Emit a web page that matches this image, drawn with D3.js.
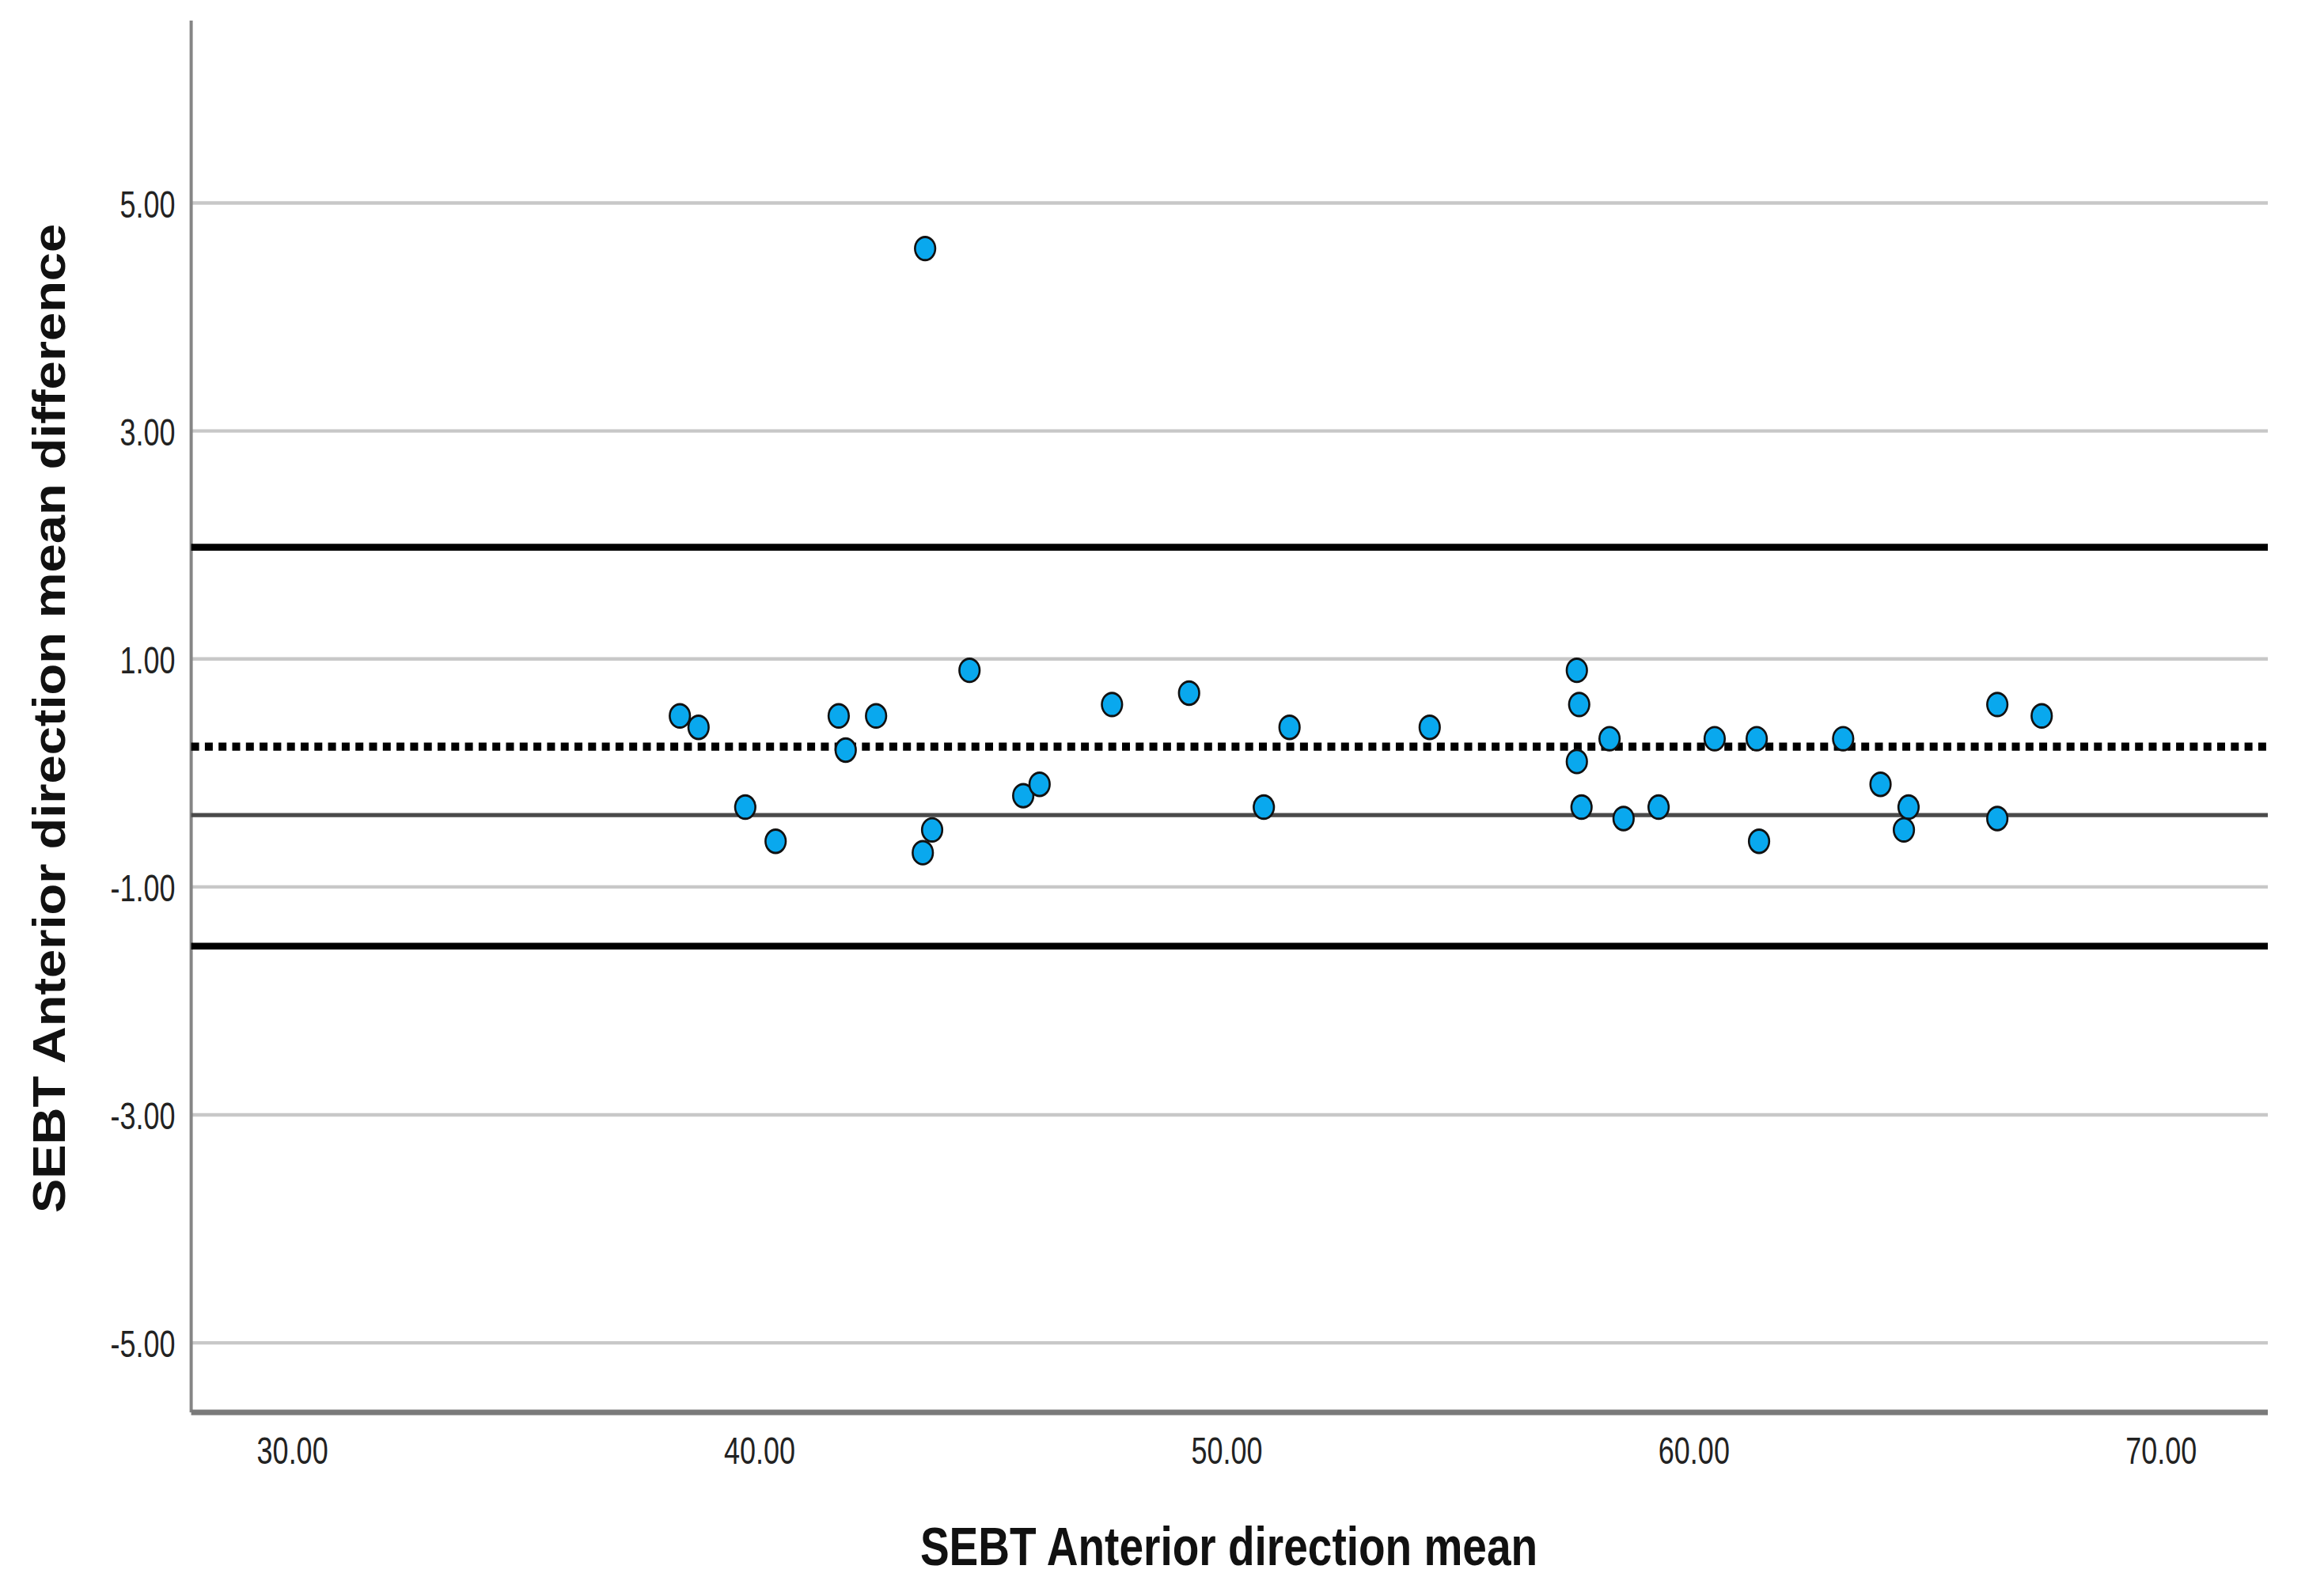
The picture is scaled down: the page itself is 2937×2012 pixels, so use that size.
<!DOCTYPE html>
<html><head><meta charset="utf-8">
<script src="https://cdn.jsdelivr.net/npm/d3@7"></script>
<style>html,body{margin:0;padding:0;background:#fff;overflow:hidden;}</style>
</head><body><div id="chart"></div>
<script>
// ---- data ----
const xTicks = [30, 40, 50, 60, 70];
const yTicks = [-5, -3, -1, 1, 3, 5];
const meanValues = [38.3, 38.7, 39.7, 40.35, 41.7, 41.85, 42.5, 43.55, 43.5, 43.7, 44.5, 45.65, 46.0, 47.55, 49.2, 50.8, 51.35, 54.35, 57.5, 57.55, 57.5, 57.6, 58.2, 58.5, 59.25, 60.45, 61.35, 61.4, 63.2, 64.0, 64.6, 64.5, 66.5, 66.5, 67.45];
const diffValues = [0.5, 0.4, -0.3, -0.6, 0.5, 0.2, 0.5, 4.6, -0.7, -0.5, 0.9, -0.2, -0.1, 0.6, 0.7, -0.3, 0.4, 0.4, 0.9, 0.6, 0.1, -0.3, 0.3, -0.4, -0.3, 0.3, 0.3, -0.6, 0.3, -0.1, -0.3, -0.5, 0.6, -0.4, 0.5];
const meanDiff = 0.23;
const upperLoA = 1.98;
const lowerLoA = -1.52;
const refLine = -0.37;
const xDomain = [27.84, 72.29];
const yDomain = [-5.61, 6.6];
const xTitle = "SEBT Anterior direction mean";
const yTitle = "SEBT Anterior direction mean difference";

// ---- layout (stretched vertically like the source picture) ----
const W = 2937, H = 2012, S = 1.15;
const HI = H / S;
const mLeft = 241.6, mRight = 2866, mTop = 26 / S, mBottom = 1785 / S;

const svg = d3.select("#chart").append("svg")
  .attr("width", W).attr("height", H)
  .attr("viewBox", `0 0 ${W} ${HI}`)
  .attr("preserveAspectRatio", "none")
  .style("display", "block");

svg.append("rect").attr("width", W).attr("height", HI).attr("fill", "#fff");

const x = d3.scaleLinear().domain(xDomain).range([mLeft, mRight]);
const y = d3.scaleLinear().domain(yDomain).range([mBottom, mTop]);
const fmt = d3.formatLocale({decimal: ".", thousands: ",", grouping: [3], currency: ["", ""], minus: "-"}).format(".2f");
const font = "'Liberation Sans', Arial, sans-serif";
const tickK = 1.18;   // extra vertical stretch of tick labels
const tickSize = 36;

// gridlines
svg.append("g").selectAll("line").data(yTicks).join("line")
  .attr("x1", mLeft).attr("x2", mRight)
  .attr("y1", d => y(d)).attr("y2", d => y(d))
  .attr("stroke", "#c8c8c8").attr("stroke-width", 3.9);

// y axis (line + labels)
const yAxis = d3.axisLeft(y).tickValues(yTicks).tickFormat(fmt).tickSize(0);
const gy = svg.append("g").attr("transform", `translate(${mLeft},0)`).call(yAxis);
gy.select(".domain").remove();
gy.selectAll(".tick text")
  .attr("x", 0).attr("y", 0).attr("dy", "0.36em")
  .attr("transform", `translate(-20,0) scale(1,${tickK})`)
  .attr("font-family", font).attr("font-size", tickSize).attr("fill", "#222")
  .attr("text-anchor", "end");
svg.append("line").attr("x1", mLeft).attr("x2", mLeft).attr("y1", mTop).attr("y2", mBottom)
  .attr("stroke", "#858585").attr("stroke-width", 4);

// x axis (line + labels)
const xAxis = d3.axisBottom(x).tickValues(xTicks).tickFormat(fmt).tickSize(0);
const gx = svg.append("g").attr("transform", `translate(0,${mBottom})`).call(xAxis);
gx.select(".domain").remove();
gx.selectAll(".tick text")
  .attr("x", 0).attr("y", 0).attr("dy", 0)
  .attr("transform", `translate(0,${(1850 - 1785) / S}) scale(1,${tickK})`)
  .attr("font-family", font).attr("font-size", tickSize).attr("fill", "#222")
  .attr("text-anchor", "middle");
svg.append("line").attr("x1", mLeft).attr("x2", mRight).attr("y1", mBottom).attr("y2", mBottom)
  .attr("stroke", "#7a7a7a").attr("stroke-width", 6);

// reference lines
svg.append("line").attr("x1", mLeft).attr("x2", mRight).attr("y1", y(refLine)).attr("y2", y(refLine))
  .attr("stroke", "#4a4a4a").attr("stroke-width", 4.5);
[upperLoA, lowerLoA].forEach(v => {
  svg.append("line").attr("x1", mLeft).attr("x2", mRight).attr("y1", y(v)).attr("y2", y(v))
    .attr("stroke", "#000").attr("stroke-width", 7.5);
});
svg.append("line").attr("x1", mLeft).attr("x2", mRight).attr("y1", y(meanDiff)).attr("y2", y(meanDiff))
  .attr("stroke", "#000").attr("stroke-width", 9).attr("stroke-dasharray", "10,7.3");

// points
const pts = meanValues.map((m, i) => ({m, d: diffValues[i]}));
svg.append("g").selectAll("circle").data(pts).join("circle")
  .attr("cx", p => x(p.m)).attr("cy", p => y(p.d)).attr("r", 12.8)
  .attr("fill", "#09a8ee").attr("stroke", "#111").attr("stroke-width", 2.6);

// titles
svg.append("text")
  .attr("transform", `translate(1553,${1978 / S}) scale(1,1.075)`)
  .attr("text-anchor", "middle").attr("font-family", font).attr("font-weight", "bold")
  .attr("font-size", 55).attr("fill", "#111").text(xTitle);
svg.append("text").attr("transform", `translate(82,${908 / S}) rotate(-90)`)
  .attr("text-anchor", "middle")
  .attr("font-family", font).attr("font-weight", "bold")
  .attr("font-size", 56.5).attr("fill", "#111").text(yTitle);
</script>
</body></html>
